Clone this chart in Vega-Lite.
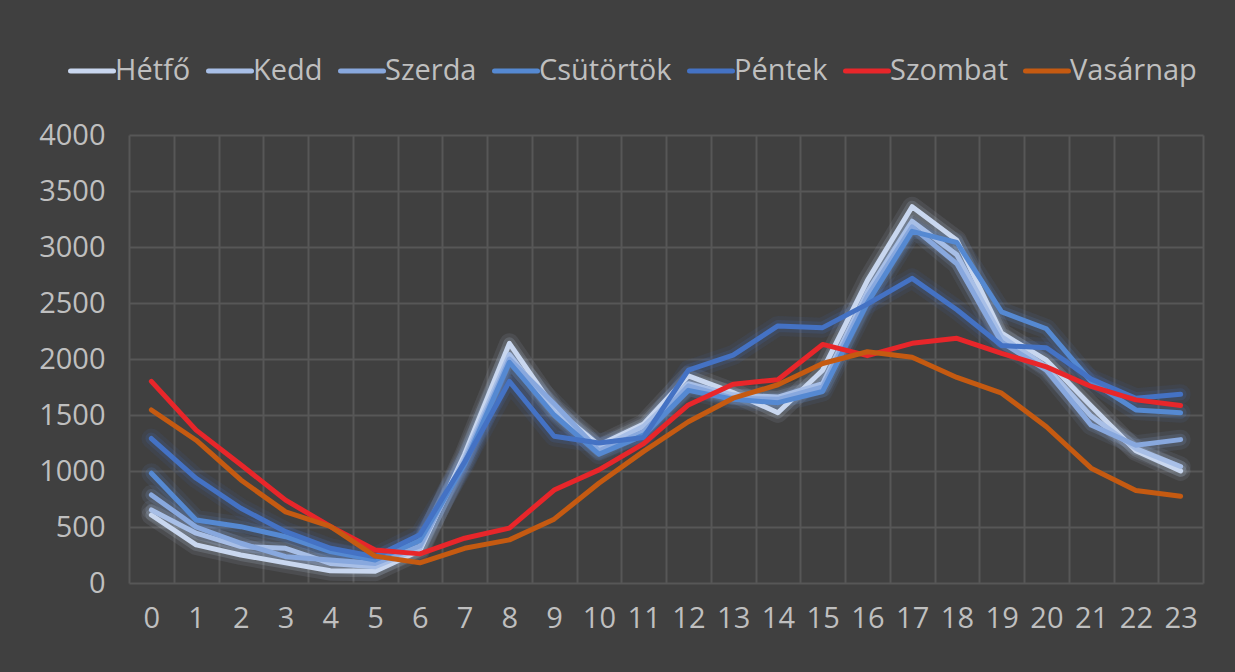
{
  "$schema": "https://vega.github.io/schema/vega-lite/v6.json",
  "autosize": {"type": "none"},
  "width": 1074,
  "height": 448,
  "padding": {"left": 129, "top": 135, "right": 32, "bottom": 89},
  "background": "#404040",
  "config": {
    "view": {"stroke": null},
    "font": "Open Sans",
    "axis": {"gridColor": "#575757", "gridWidth": 2, "domain": false, "ticks": false, "labelColor": "#bfbfbf", "labelFont": "Open Sans", "labelFontSize": 29}
  },
  "datasets": {
    "d": [
      {"nap": "Hétfő", "ora": 0, "v": 607}, {"nap": "Hétfő", "ora": 1, "v": 340}, {"nap": "Hétfő", "ora": 2, "v": 250}, {"nap": "Hétfő", "ora": 3, "v": 180}, {"nap": "Hétfő", "ora": 4, "v": 110}, {"nap": "Hétfő", "ora": 5, "v": 105}, {"nap": "Hétfő", "ora": 6, "v": 290}, {"nap": "Hétfő", "ora": 7, "v": 1150}, {"nap": "Hétfő", "ora": 8, "v": 2140}, {"nap": "Hétfő", "ora": 9, "v": 1560}, {"nap": "Hétfő", "ora": 10, "v": 1230}, {"nap": "Hétfő", "ora": 11, "v": 1420}, {"nap": "Hétfő", "ora": 12, "v": 1850}, {"nap": "Hétfő", "ora": 13, "v": 1700}, {"nap": "Hétfő", "ora": 14, "v": 1520}, {"nap": "Hétfő", "ora": 15, "v": 1900}, {"nap": "Hétfő", "ora": 16, "v": 2700}, {"nap": "Hétfő", "ora": 17, "v": 3360}, {"nap": "Hétfő", "ora": 18, "v": 3060}, {"nap": "Hétfő", "ora": 19, "v": 2230}, {"nap": "Hétfő", "ora": 20, "v": 1990}, {"nap": "Hétfő", "ora": 21, "v": 1580}, {"nap": "Hétfő", "ora": 22, "v": 1180}, {"nap": "Hétfő", "ora": 23, "v": 1000},
      {"nap": "Kedd", "ora": 0, "v": 652}, {"nap": "Kedd", "ora": 1, "v": 445}, {"nap": "Kedd", "ora": 2, "v": 325}, {"nap": "Kedd", "ora": 3, "v": 310}, {"nap": "Kedd", "ora": 4, "v": 175}, {"nap": "Kedd", "ora": 5, "v": 145}, {"nap": "Kedd", "ora": 6, "v": 310}, {"nap": "Kedd", "ora": 7, "v": 1120}, {"nap": "Kedd", "ora": 8, "v": 2040}, {"nap": "Kedd", "ora": 9, "v": 1530}, {"nap": "Kedd", "ora": 10, "v": 1200}, {"nap": "Kedd", "ora": 11, "v": 1400}, {"nap": "Kedd", "ora": 12, "v": 1780}, {"nap": "Kedd", "ora": 13, "v": 1680}, {"nap": "Kedd", "ora": 14, "v": 1660}, {"nap": "Kedd", "ora": 15, "v": 1780}, {"nap": "Kedd", "ora": 16, "v": 2600}, {"nap": "Kedd", "ora": 17, "v": 3230}, {"nap": "Kedd", "ora": 18, "v": 2930}, {"nap": "Kedd", "ora": 19, "v": 2200}, {"nap": "Kedd", "ora": 20, "v": 1930}, {"nap": "Kedd", "ora": 21, "v": 1490}, {"nap": "Kedd", "ora": 22, "v": 1200}, {"nap": "Kedd", "ora": 23, "v": 1040},
      {"nap": "Szerda", "ora": 0, "v": 786}, {"nap": "Szerda", "ora": 1, "v": 500}, {"nap": "Szerda", "ora": 2, "v": 355}, {"nap": "Szerda", "ora": 3, "v": 235}, {"nap": "Szerda", "ora": 4, "v": 205}, {"nap": "Szerda", "ora": 5, "v": 175}, {"nap": "Szerda", "ora": 6, "v": 330}, {"nap": "Szerda", "ora": 7, "v": 1090}, {"nap": "Szerda", "ora": 8, "v": 2000}, {"nap": "Szerda", "ora": 9, "v": 1600}, {"nap": "Szerda", "ora": 10, "v": 1180}, {"nap": "Szerda", "ora": 11, "v": 1350}, {"nap": "Szerda", "ora": 12, "v": 1760}, {"nap": "Szerda", "ora": 13, "v": 1650}, {"nap": "Szerda", "ora": 14, "v": 1640}, {"nap": "Szerda", "ora": 15, "v": 1750}, {"nap": "Szerda", "ora": 16, "v": 2560}, {"nap": "Szerda", "ora": 17, "v": 3180}, {"nap": "Szerda", "ora": 18, "v": 2850}, {"nap": "Szerda", "ora": 19, "v": 2150}, {"nap": "Szerda", "ora": 20, "v": 1900}, {"nap": "Szerda", "ora": 21, "v": 1410}, {"nap": "Szerda", "ora": 22, "v": 1230}, {"nap": "Szerda", "ora": 23, "v": 1280},
      {"nap": "Csütörtök", "ora": 0, "v": 980}, {"nap": "Csütörtök", "ora": 1, "v": 563}, {"nap": "Csütörtök", "ora": 2, "v": 503}, {"nap": "Csütörtök", "ora": 3, "v": 413}, {"nap": "Csütörtök", "ora": 4, "v": 280}, {"nap": "Csütörtök", "ora": 5, "v": 205}, {"nap": "Csütörtök", "ora": 6, "v": 380}, {"nap": "Csütörtök", "ora": 7, "v": 1060}, {"nap": "Csütörtök", "ora": 8, "v": 1970}, {"nap": "Csütörtök", "ora": 9, "v": 1500}, {"nap": "Csütörtök", "ora": 10, "v": 1150}, {"nap": "Csütörtök", "ora": 11, "v": 1320}, {"nap": "Csütörtök", "ora": 12, "v": 1720}, {"nap": "Csütörtök", "ora": 13, "v": 1640}, {"nap": "Csütörtök", "ora": 14, "v": 1610}, {"nap": "Csütörtök", "ora": 15, "v": 1710}, {"nap": "Csütörtök", "ora": 16, "v": 2500}, {"nap": "Csütörtök", "ora": 17, "v": 3140}, {"nap": "Csütörtök", "ora": 18, "v": 3040}, {"nap": "Csütörtök", "ora": 19, "v": 2420}, {"nap": "Csütörtök", "ora": 20, "v": 2270}, {"nap": "Csütörtök", "ora": 21, "v": 1800}, {"nap": "Csütörtök", "ora": 22, "v": 1545}, {"nap": "Csütörtök", "ora": 23, "v": 1520},
      {"nap": "Péntek", "ora": 0, "v": 1290}, {"nap": "Péntek", "ora": 1, "v": 935}, {"nap": "Péntek", "ora": 2, "v": 667}, {"nap": "Péntek", "ora": 3, "v": 458}, {"nap": "Péntek", "ora": 4, "v": 310}, {"nap": "Péntek", "ora": 5, "v": 235}, {"nap": "Péntek", "ora": 6, "v": 430}, {"nap": "Péntek", "ora": 7, "v": 1080}, {"nap": "Péntek", "ora": 8, "v": 1800}, {"nap": "Péntek", "ora": 9, "v": 1310}, {"nap": "Péntek", "ora": 10, "v": 1250}, {"nap": "Péntek", "ora": 11, "v": 1300}, {"nap": "Péntek", "ora": 12, "v": 1900}, {"nap": "Péntek", "ora": 13, "v": 2035}, {"nap": "Péntek", "ora": 14, "v": 2295}, {"nap": "Péntek", "ora": 15, "v": 2280}, {"nap": "Péntek", "ora": 16, "v": 2490}, {"nap": "Péntek", "ora": 17, "v": 2720}, {"nap": "Péntek", "ora": 18, "v": 2440}, {"nap": "Péntek", "ora": 19, "v": 2120}, {"nap": "Péntek", "ora": 20, "v": 2100}, {"nap": "Péntek", "ora": 21, "v": 1820}, {"nap": "Péntek", "ora": 22, "v": 1650}, {"nap": "Péntek", "ora": 23, "v": 1685},
      {"nap": "Szombat", "ora": 0, "v": 1800}, {"nap": "Szombat", "ora": 1, "v": 1365}, {"nap": "Szombat", "ora": 2, "v": 1055}, {"nap": "Szombat", "ora": 3, "v": 740}, {"nap": "Szombat", "ora": 4, "v": 505}, {"nap": "Szombat", "ora": 5, "v": 295}, {"nap": "Szombat", "ora": 6, "v": 260}, {"nap": "Szombat", "ora": 7, "v": 400}, {"nap": "Szombat", "ora": 8, "v": 490}, {"nap": "Szombat", "ora": 9, "v": 830}, {"nap": "Szombat", "ora": 10, "v": 1010}, {"nap": "Szombat", "ora": 11, "v": 1245}, {"nap": "Szombat", "ora": 12, "v": 1590}, {"nap": "Szombat", "ora": 13, "v": 1775}, {"nap": "Szombat", "ora": 14, "v": 1815}, {"nap": "Szombat", "ora": 15, "v": 2130}, {"nap": "Szombat", "ora": 16, "v": 2030}, {"nap": "Szombat", "ora": 17, "v": 2140}, {"nap": "Szombat", "ora": 18, "v": 2185}, {"nap": "Szombat", "ora": 19, "v": 2050}, {"nap": "Szombat", "ora": 20, "v": 1930}, {"nap": "Szombat", "ora": 21, "v": 1755}, {"nap": "Szombat", "ora": 22, "v": 1635}, {"nap": "Szombat", "ora": 23, "v": 1585},
      {"nap": "Vasárnap", "ora": 0, "v": 1545}, {"nap": "Vasárnap", "ora": 1, "v": 1275}, {"nap": "Vasárnap", "ora": 2, "v": 920}, {"nap": "Vasárnap", "ora": 3, "v": 635}, {"nap": "Vasárnap", "ora": 4, "v": 505}, {"nap": "Vasárnap", "ora": 5, "v": 240}, {"nap": "Vasárnap", "ora": 6, "v": 180}, {"nap": "Vasárnap", "ora": 7, "v": 310}, {"nap": "Vasárnap", "ora": 8, "v": 385}, {"nap": "Vasárnap", "ora": 9, "v": 570}, {"nap": "Vasárnap", "ora": 10, "v": 890}, {"nap": "Vasárnap", "ora": 11, "v": 1175}, {"nap": "Vasárnap", "ora": 12, "v": 1440}, {"nap": "Vasárnap", "ora": 13, "v": 1650}, {"nap": "Vasárnap", "ora": 14, "v": 1770}, {"nap": "Vasárnap", "ora": 15, "v": 1960}, {"nap": "Vasárnap", "ora": 16, "v": 2065}, {"nap": "Vasárnap", "ora": 17, "v": 2015}, {"nap": "Vasárnap", "ora": 18, "v": 1835}, {"nap": "Vasárnap", "ora": 19, "v": 1695}, {"nap": "Vasárnap", "ora": 20, "v": 1395}, {"nap": "Vasárnap", "ora": 21, "v": 1025}, {"nap": "Vasárnap", "ora": 22, "v": 825}, {"nap": "Vasárnap", "ora": 23, "v": 775}
    ]
  },
  "data": {"name": "d"},
  "encoding": {
    "x": {
      "field": "ora", "type": "ordinal",
      "scale": {"type": "band", "paddingInner": 0, "paddingOuter": 0},
      "axis": {"title": null, "labelAngle": 0, "grid": true, "tickBand": "extent", "labelPadding": 21, "labelBaseline": "top"}
    },
    "y": {
      "field": "v", "type": "quantitative",
      "scale": {"domain": [0, 4000], "nice": false},
      "axis": {"title": null, "format": "d", "values": [0, 500, 1000, 1500, 2000, 2500, 3000, 3500, 4000], "labelPadding": 24}
    },
    "color": {
      "field": "nap", "type": "nominal",
      "scale": {
        "domain": ["Hétfő", "Kedd", "Szerda", "Csütörtök", "Péntek", "Szombat", "Vasárnap"],
        "range": ["#c9d7ef", "#a8bfe7", "#88a8de", "#5589d2", "#4472c4", "#e8262a", "#c55a11"]
      },
      "legend": {
        "title": null, "orient": "none", "direction": "horizontal", "legendX": -61, "legendY": -88,
        "symbolType": "stroke", "symbolStrokeWidth": 5, "symbolSize": 1849,
        "labelFont": "Open Sans", "labelFontSize": 29, "labelColor": "#bfbfbf", "labelOffset": -1,
        "columnPadding": 7, "symbolOpacity": 1,
        "encode": {"symbols": {"update": {"strokeCap": {"value": "round"}}}}
      }
    }
  },
  "layer": [
    {
      "transform": [{"filter": "indexof(['Hétfő','Kedd','Szerda','Csütörtök','Péntek'], datum.nap) >= 0"}],
      "mark": {"type": "line", "strokeWidth": 20, "opacity": 0.09, "strokeJoin": "round", "strokeCap": "round"}
    },
    {
      "transform": [{"filter": "indexof(['Hétfő','Kedd','Szerda','Csütörtök','Péntek'], datum.nap) >= 0"}],
      "mark": {"type": "line", "strokeWidth": 12, "opacity": 0.16, "strokeJoin": "round", "strokeCap": "round"}
    },
    {
      "mark": {"type": "line", "strokeWidth": 5, "strokeJoin": "round", "strokeCap": "round"}
    }
  ]
}
